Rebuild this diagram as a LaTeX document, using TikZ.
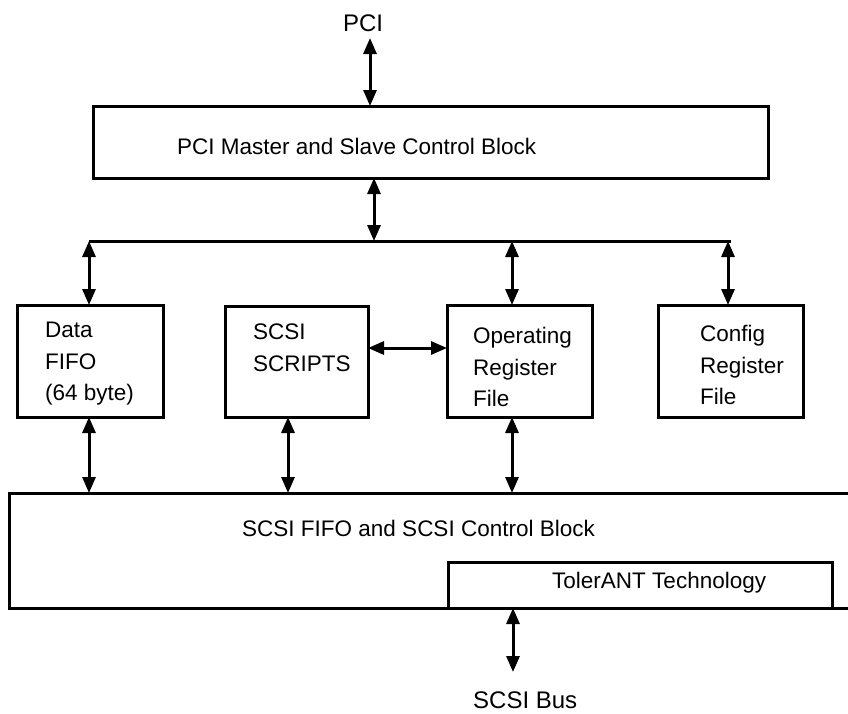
\documentclass[tikz,border=0pt]{standalone}
\usepackage{fontspec}
\setmainfont{Liberation Sans}
\usetikzlibrary{arrows.meta}
\begin{document}
\begin{tikzpicture}[x=1pt,y=-1pt,
  box/.style={draw, line width=3pt, inner sep=0pt, outer sep=0pt, anchor=north west},
  dbl/.style={line width=3pt, {Triangle[length=16pt,width=13pt]}-{Triangle[length=16pt,width=13pt]}},
  txt/.style={inner sep=0pt, align=left, font=\fontsize{22.5}{31.5}\selectfont},
  lbl/.style={inner sep=0pt, font=\fontsize{24}{28}\selectfont}]
\useasboundingbox (0,0) rectangle (848,713);
% labels
\node[lbl] (pcil) at (363,23) {PCI};
\node[lbl, anchor=west] (busl) at (473,700) {SCSI Bus};
% boxes
\node[box, minimum width=675pt, minimum height=72pt] (pci) at (93,106) {};
\node[box, minimum width=146pt, minimum height=112pt] (fifo) at (17,305) {};
\node[box, minimum width=143pt, minimum height=111pt] (scripts) at (225,306) {};
\node[box, minimum width=145pt, minimum height=112pt] (opreg) at (447,305) {};
\node[box, minimum width=145pt, minimum height=112pt] (cfg) at (658,305) {};
\node[box, minimum width=870pt, minimum height=115pt] (scsi) at (9,493) {};
\node[box, minimum width=384pt, minimum height=46pt] (tol) at (448,562) {};
% texts
\node[txt, anchor=west] (pcit) at (177,146) {PCI Master and Slave Control Block};
\node[txt, anchor=north west] (fifot) at (45,322) {Data\\FIFO\\(64 byte)};
\node[txt, anchor=north west] (scriptst) at (253,324) {SCSI\\SCRIPTS};
\node[txt, anchor=north west] (opregt) at (473,327) {Operating\\Register\\File};
\node[txt, anchor=north west] (cfgt) at (700,325) {Config\\Register\\File};
\node[txt, anchor=west] (scsit) at (242,528) {SCSI FIFO and SCSI Control Block};
\node[txt, anchor=west] (tolt) at (552,583) {TolerANT Technology};
% coordinates
\coordinate (pcitop) at (370,38);
\coordinate (busL) at (89,241);
\coordinate (busM) at (374,241);
\coordinate (busO) at (512,241);
\coordinate (busC) at (728,241);
\coordinate (busR) at (731,241);
\coordinate (hy) at (0,348);
\coordinate (c2) at (288,0);
\coordinate (sbx) at (513,672);
% connectors
\draw[line width=3pt] (busL) -- (busR);
\draw[dbl] (pcitop) -- (pcitop |- pci.north);
\draw[dbl] (pci.south -| busM) -- (busM);
\draw[dbl] (busL) -- (busL |- fifo.north);
\draw[dbl] (busO) -- (busO |- opreg.north);
\draw[dbl] (busC) -- (busC |- cfg.north);
\draw[dbl] (scripts.east |- hy) -- (opreg.west |- hy);
\draw[dbl] (fifo.south -| busL) -- (scsi.north -| busL);
\draw[dbl] (scripts.south -| c2) -- (scsi.north -| c2);
\draw[dbl] (opreg.south -| busO) -- (scsi.north -| busO);
\draw[dbl] (scsi.south -| sbx) -- (sbx);
\end{tikzpicture}
\end{document}
